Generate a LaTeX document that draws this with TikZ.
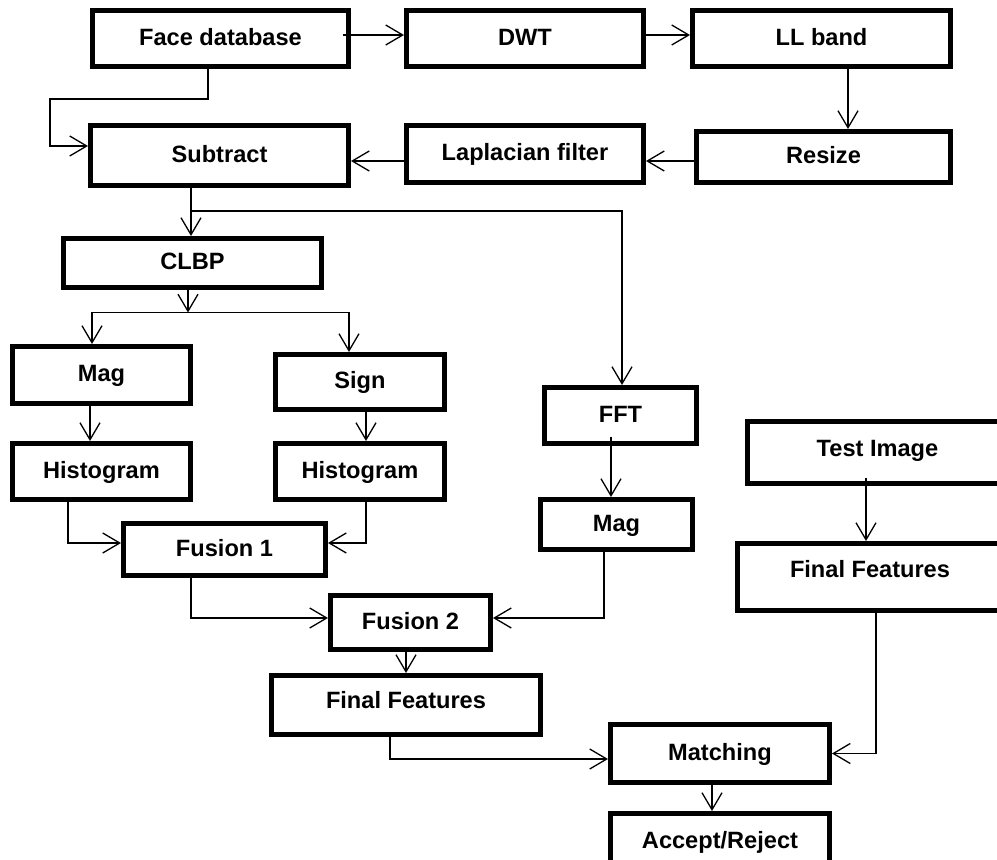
\documentclass[tikz,border=0pt]{standalone}
\usepackage{fontspec}
\setmainfont{Liberation Sans}
\usetikzlibrary{arrows.meta}
\begin{document}
\begin{tikzpicture}[x=1pt,y=-1pt,
  box/.style={draw, line width=5pt, inner sep=0pt, align=center,
    font=\bfseries\fontsize{23.6}{28}\selectfont, text height=17pt, text depth=4pt},
  arr/.style={line width=1.3pt, -{Straight Barb[length=17pt,width=20pt,line width=1.3pt]}},
  ln/.style={line width=1.3pt}]
\useasboundingbox (0,0) rectangle (997,860);
\clip (0,0) rectangle (997,860);
% boxes
\node[box, minimum width=256pt, minimum height=56pt] (face) at (220.5,38.5) {Face database};
\node[box, minimum width=237pt, minimum height=56pt] (dwt) at (525,38.5) {DWT};
\node[box, minimum width=258pt, minimum height=56pt] (ll) at (821.5,38.5) {LL band};
\node[box, minimum width=254pt, minimum height=51pt] (resize) at (823.5,157) {Resize};
\node[box, minimum width=237pt, minimum height=57pt] (lap) at (525,154) {Laplacian filter};
\node[box, minimum width=258pt, minimum height=60pt] (sub) at (219.5,155.5) {Subtract};
\node[box, minimum width=258pt, minimum height=49pt] (clbp) at (192.5,263) {CLBP};
\node[box, minimum width=178pt, minimum height=57pt] (mag1) at (101.5,375) {Mag};
\node[box, minimum width=169pt, minimum height=55pt] (sign) at (360,382) {Sign};
\node[box, minimum width=178pt, minimum height=56pt] (hist1) at (101.5,471.5) {Histogram};
\node[box, minimum width=169pt, minimum height=56pt] (hist2) at (360,471.5) {Histogram};
\node[box, minimum width=202pt, minimum height=52pt] (fus1) at (224.5,549.5) {Fusion 1};
\node[box, minimum width=152pt, minimum height=56pt] (fft) at (620.5,415.5) {FFT};
\node[box, minimum width=152pt, minimum height=50pt] (mag2) at (616.5,524.5) {Mag};
\node[box, minimum width=260pt, minimum height=62pt, text depth=10pt] (test) at (877.5,452.5) {Test Image};
\node[box, minimum width=265pt, minimum height=67pt, text depth=16pt] (ff2) at (870,577) {Final Features};
\node[box, minimum width=160pt, minimum height=54pt] (fus2) at (410.5,622.5) {Fusion 2};
\node[box, minimum width=269pt, minimum height=59pt, text depth=10pt] (ff1) at (406,705) {Final Features};
\node[box, minimum width=219pt, minimum height=58pt] (match) at (720,753.5) {Matching};
\node[box, minimum width=219pt, minimum height=59pt, text depth=6pt] (accept) at (720,843) {Accept/Reject};
% helper coordinates
\coordinate (c1) at ([xshift=26.5pt]ll.south);
\coordinate (c2) at ([xshift=-28.5pt]sub.south);
\coordinate (br) at ([xshift=-28.5pt,yshift=-23pt]sub.south);
\coordinate (c3) at ([xshift=-4.5pt]clbp.south);
\coordinate (split) at ([xshift=-4.5pt,yshift=-22.5pt]clbp.south);
\coordinate (c4) at ([xshift=-11.5pt]mag1.south);
\coordinate (c5) at ([xshift=6pt]sign.south);
\coordinate (c6) at ([xshift=-9.5pt,yshift=9pt]fft.south);
\coordinate (c7) at ([xshift=-4.5pt]fus2.south);
\coordinate (c8) at ([xshift=-11.5pt,yshift=8pt]test.south);
\coordinate (c9) at ([xshift=-8pt]match.south);
% connectors
\draw[arr] ([yshift=3.5pt,xshift=-8pt]face.east) -- ([yshift=3.5pt]dwt.west);
\draw[arr] ([yshift=3.5pt]dwt.east) -- ([yshift=3.5pt]ll.west);
\draw[arr] (c1) -- (c1 |- resize.north);
\draw[arr] ([yshift=-4pt]resize.west) -- ([yshift=-4pt]resize.west -| lap.east);
\draw[arr] ([yshift=-7pt]lap.west) -- ([yshift=-7pt]lap.west -| sub.east);
\draw[arr] ([xshift=-12.5pt]face.south) -- ++(0,30) -| ([xshift=-38pt,yshift=9.5pt]sub.west) -- ([yshift=9.5pt]sub.west);
\draw[arr] (c2) -- (c2 |- clbp.north);
\draw[arr] (br) -| ([xshift=1.5pt]fft.north);
\draw[arr] (c3) -- (split);
\draw[arr] (split) -| ([xshift=-9.5pt]mag1.north);
\draw[arr] (split) -| ([xshift=-11pt]sign.north);
\draw[arr] (c4) -- (c4 |- hist1.north);
\draw[arr] (c5) -- (c5 |- hist2.north);
\draw[arr] ([xshift=-33.5pt]hist1.south) |- ([yshift=6.5pt]fus1.west);
\draw[arr] ([xshift=6pt]hist2.south) |- ([yshift=6.5pt]fus1.east);
\draw[arr] ([xshift=-33.5pt]fus1.south) |- ([yshift=4.5pt]fus2.west);
\draw[arr] (c6) -- (c6 |- mag2.north);
\draw[arr] ([xshift=-12.5pt]mag2.south) |- ([yshift=4.5pt]fus2.east);
\draw[arr] (c7) -- (c7 |- ff1.north);
\draw[arr] ([xshift=-16pt]ff1.south) |- ([yshift=-5.5pt]match.west);
\draw[arr] (c8) -- (c8 |- ff2.north);
\draw[arr] ([xshift=6pt]ff2.south) |- (match.east);
\draw[arr] (c9) -- (c9 |- accept.north);
\end{tikzpicture}
\end{document}
